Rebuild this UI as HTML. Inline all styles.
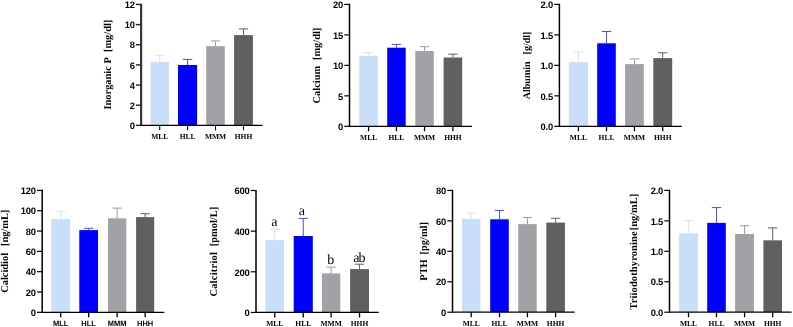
<!DOCTYPE html>
<html><head><meta charset="utf-8"><style>
html,body{margin:0;padding:0;background:#fff;}
body{width:793px;height:327px;overflow:hidden;font-family:"Liberation Sans", sans-serif;}
svg{display:block;will-change:transform;}
text{white-space:pre;text-rendering:geometricPrecision;opacity:0.999;}
</style></head><body>
<svg width="793" height="327" viewBox="0 0 793 327">
<rect width="793" height="327" fill="#fff"/>
<rect x="150.50" y="61.90" width="18.50" height="63.45" fill="#c9def8"/>
<line x1="159.75" y1="61.90" x2="159.75" y2="55.30" stroke="#d3e3f9" stroke-width="1"/>
<line x1="155.05" y1="55.30" x2="164.45" y2="55.30" stroke="#d3e3f9" stroke-width="1"/>
<line x1="159.75" y1="125.35" x2="159.75" y2="130.35" stroke="#000" stroke-width="1.1"/>
<text x="159.75" y="139.20" text-anchor="middle" font-family="'Liberation Serif', serif" font-weight="bold" font-size="7.5">MLL</text>
<rect x="178.00" y="65.00" width="19.10" height="60.35" fill="#0000ff"/>
<line x1="187.55" y1="65.00" x2="187.55" y2="59.40" stroke="#4a4aff" stroke-width="1"/>
<line x1="182.85" y1="59.40" x2="192.25" y2="59.40" stroke="#4a4aff" stroke-width="1"/>
<line x1="187.55" y1="125.35" x2="187.55" y2="130.35" stroke="#000" stroke-width="1.1"/>
<text x="187.55" y="139.20" text-anchor="middle" font-family="'Liberation Serif', serif" font-weight="bold" font-size="7.5">HLL</text>
<rect x="206.20" y="46.10" width="18.60" height="79.25" fill="#a2a1a6"/>
<line x1="215.50" y1="46.10" x2="215.50" y2="40.90" stroke="#9c9ba0" stroke-width="1"/>
<line x1="210.80" y1="40.90" x2="220.20" y2="40.90" stroke="#9c9ba0" stroke-width="1"/>
<line x1="215.50" y1="125.35" x2="215.50" y2="130.35" stroke="#000" stroke-width="1.1"/>
<text x="215.50" y="139.20" text-anchor="middle" font-family="'Liberation Serif', serif" font-weight="bold" font-size="7.5">MMM</text>
<rect x="234.10" y="35.10" width="18.80" height="90.25" fill="#606060"/>
<line x1="243.50" y1="35.10" x2="243.50" y2="28.90" stroke="#606060" stroke-width="1"/>
<line x1="238.80" y1="28.90" x2="248.20" y2="28.90" stroke="#606060" stroke-width="1"/>
<line x1="243.50" y1="125.35" x2="243.50" y2="130.35" stroke="#000" stroke-width="1.1"/>
<text x="243.50" y="139.20" text-anchor="middle" font-family="'Liberation Serif', serif" font-weight="bold" font-size="7.5">HHH</text>
<line x1="141.10" y1="3.75" x2="141.10" y2="125.95" stroke="#383838" stroke-width="2.2"/>
<line x1="141.10" y1="125.35" x2="262.60" y2="125.35" stroke="#000" stroke-width="1.2"/>
<line x1="135.90" y1="125.35" x2="141.10" y2="125.35" stroke="#222" stroke-width="1.4"/>
<text x="134.70" y="129.07" text-anchor="end" font-family="'Liberation Sans', sans-serif" font-weight="bold" font-size="9.4" letter-spacing="-0.2">0</text>
<line x1="135.90" y1="105.20" x2="141.10" y2="105.20" stroke="#222" stroke-width="1.4"/>
<text x="134.70" y="108.92" text-anchor="end" font-family="'Liberation Sans', sans-serif" font-weight="bold" font-size="9.4" letter-spacing="-0.2">2</text>
<line x1="135.90" y1="85.05" x2="141.10" y2="85.05" stroke="#222" stroke-width="1.4"/>
<text x="134.70" y="88.77" text-anchor="end" font-family="'Liberation Sans', sans-serif" font-weight="bold" font-size="9.4" letter-spacing="-0.2">4</text>
<line x1="135.90" y1="64.90" x2="141.10" y2="64.90" stroke="#222" stroke-width="1.4"/>
<text x="134.70" y="68.62" text-anchor="end" font-family="'Liberation Sans', sans-serif" font-weight="bold" font-size="9.4" letter-spacing="-0.2">6</text>
<line x1="135.90" y1="44.75" x2="141.10" y2="44.75" stroke="#222" stroke-width="1.4"/>
<text x="134.70" y="48.47" text-anchor="end" font-family="'Liberation Sans', sans-serif" font-weight="bold" font-size="9.4" letter-spacing="-0.2">8</text>
<line x1="135.90" y1="24.60" x2="141.10" y2="24.60" stroke="#222" stroke-width="1.4"/>
<text x="134.70" y="28.32" text-anchor="end" font-family="'Liberation Sans', sans-serif" font-weight="bold" font-size="9.4" letter-spacing="-0.2">10</text>
<line x1="135.90" y1="4.45" x2="141.10" y2="4.45" stroke="#222" stroke-width="1.4"/>
<text x="134.70" y="8.17" text-anchor="end" font-family="'Liberation Sans', sans-serif" font-weight="bold" font-size="9.4" letter-spacing="-0.2">12</text>
<text transform="translate(110.90,109.50) rotate(-90)" x="0" y="0" text-anchor="start" font-family="'Liberation Serif', serif" font-weight="bold" font-size="10.4" letter-spacing="0">Inorganic P</text>
<text transform="translate(110.90,19.70) rotate(-90)" x="0" y="0" text-anchor="end" font-family="'Liberation Serif', serif" font-weight="bold" font-size="10.4">[mg/dl]</text>
<rect x="359.30" y="55.90" width="18.60" height="70.40" fill="#c9def8"/>
<line x1="368.60" y1="55.90" x2="368.60" y2="52.60" stroke="#d3e3f9" stroke-width="1"/>
<line x1="363.90" y1="52.60" x2="373.30" y2="52.60" stroke="#d3e3f9" stroke-width="1"/>
<line x1="368.60" y1="126.30" x2="368.60" y2="131.30" stroke="#000" stroke-width="1.3"/>
<text x="368.60" y="139.80" text-anchor="middle" font-family="'Liberation Serif', serif" font-weight="bold" font-size="7.5">MLL</text>
<rect x="387.20" y="47.70" width="18.50" height="78.60" fill="#0000ff"/>
<line x1="396.45" y1="47.70" x2="396.45" y2="44.40" stroke="#4a4aff" stroke-width="1"/>
<line x1="391.75" y1="44.40" x2="401.15" y2="44.40" stroke="#4a4aff" stroke-width="1"/>
<line x1="396.45" y1="126.30" x2="396.45" y2="131.30" stroke="#000" stroke-width="1.3"/>
<text x="396.45" y="139.80" text-anchor="middle" font-family="'Liberation Serif', serif" font-weight="bold" font-size="7.5">HLL</text>
<rect x="415.30" y="51.00" width="18.50" height="75.30" fill="#a2a1a6"/>
<line x1="424.55" y1="51.00" x2="424.55" y2="46.70" stroke="#9c9ba0" stroke-width="1"/>
<line x1="419.85" y1="46.70" x2="429.25" y2="46.70" stroke="#9c9ba0" stroke-width="1"/>
<line x1="424.55" y1="126.30" x2="424.55" y2="131.30" stroke="#000" stroke-width="1.3"/>
<text x="424.55" y="139.80" text-anchor="middle" font-family="'Liberation Serif', serif" font-weight="bold" font-size="7.5">MMM</text>
<rect x="443.60" y="57.50" width="18.60" height="68.80" fill="#606060"/>
<line x1="452.90" y1="57.50" x2="452.90" y2="54.20" stroke="#606060" stroke-width="1"/>
<line x1="448.20" y1="54.20" x2="457.60" y2="54.20" stroke="#606060" stroke-width="1"/>
<line x1="452.90" y1="126.30" x2="452.90" y2="131.30" stroke="#000" stroke-width="1.3"/>
<text x="452.90" y="139.80" text-anchor="middle" font-family="'Liberation Serif', serif" font-weight="bold" font-size="7.5">HHH</text>
<line x1="349.50" y1="3.80" x2="349.50" y2="126.90" stroke="#000" stroke-width="1.5"/>
<line x1="349.50" y1="126.30" x2="471.90" y2="126.30" stroke="#000" stroke-width="1.2"/>
<line x1="344.30" y1="126.30" x2="349.50" y2="126.30" stroke="#000" stroke-width="1.2"/>
<text x="343.10" y="130.02" text-anchor="end" font-family="'Liberation Sans', sans-serif" font-weight="bold" font-size="9.4" letter-spacing="-0.2">0</text>
<line x1="344.30" y1="95.83" x2="349.50" y2="95.83" stroke="#000" stroke-width="1.2"/>
<text x="343.10" y="99.54" text-anchor="end" font-family="'Liberation Sans', sans-serif" font-weight="bold" font-size="9.4" letter-spacing="-0.2">5</text>
<line x1="344.30" y1="65.35" x2="349.50" y2="65.35" stroke="#000" stroke-width="1.2"/>
<text x="343.10" y="69.07" text-anchor="end" font-family="'Liberation Sans', sans-serif" font-weight="bold" font-size="9.4" letter-spacing="-0.2">10</text>
<line x1="344.30" y1="34.88" x2="349.50" y2="34.88" stroke="#000" stroke-width="1.2"/>
<text x="343.10" y="38.59" text-anchor="end" font-family="'Liberation Sans', sans-serif" font-weight="bold" font-size="9.4" letter-spacing="-0.2">15</text>
<line x1="344.30" y1="4.40" x2="349.50" y2="4.40" stroke="#000" stroke-width="1.2"/>
<text x="343.10" y="8.12" text-anchor="end" font-family="'Liberation Sans', sans-serif" font-weight="bold" font-size="9.4" letter-spacing="-0.2">20</text>
<text transform="translate(320.10,103.40) rotate(-90)" x="0" y="0" text-anchor="start" font-family="'Liberation Serif', serif" font-weight="bold" font-size="10.4" letter-spacing="0">Calcium</text>
<text transform="translate(320.10,27.70) rotate(-90)" x="0" y="0" text-anchor="end" font-family="'Liberation Serif', serif" font-weight="bold" font-size="10.4">[mg/dl]</text>
<rect x="568.80" y="62.10" width="19.20" height="64.20" fill="#c9def8"/>
<line x1="578.40" y1="62.10" x2="578.40" y2="51.90" stroke="#d3e3f9" stroke-width="1"/>
<line x1="573.70" y1="51.90" x2="583.10" y2="51.90" stroke="#d3e3f9" stroke-width="1"/>
<line x1="578.40" y1="126.30" x2="578.40" y2="131.30" stroke="#000" stroke-width="1.3"/>
<text x="578.40" y="139.90" text-anchor="middle" font-family="'Liberation Serif', serif" font-weight="bold" font-size="7.5">MLL</text>
<rect x="597.20" y="43.30" width="18.60" height="83.00" fill="#0000ff"/>
<line x1="606.50" y1="43.30" x2="606.50" y2="31.50" stroke="#4a4aff" stroke-width="1"/>
<line x1="601.80" y1="31.50" x2="611.20" y2="31.50" stroke="#4a4aff" stroke-width="1"/>
<line x1="606.50" y1="126.30" x2="606.50" y2="131.30" stroke="#000" stroke-width="1.3"/>
<text x="606.50" y="139.90" text-anchor="middle" font-family="'Liberation Serif', serif" font-weight="bold" font-size="7.5">HLL</text>
<rect x="625.10" y="64.10" width="18.70" height="62.20" fill="#a2a1a6"/>
<line x1="634.45" y1="64.10" x2="634.45" y2="58.90" stroke="#9c9ba0" stroke-width="1"/>
<line x1="629.75" y1="58.90" x2="639.15" y2="58.90" stroke="#9c9ba0" stroke-width="1"/>
<line x1="634.45" y1="126.30" x2="634.45" y2="131.30" stroke="#000" stroke-width="1.3"/>
<text x="634.45" y="139.90" text-anchor="middle" font-family="'Liberation Serif', serif" font-weight="bold" font-size="7.5">MMM</text>
<rect x="653.30" y="58.10" width="18.90" height="68.20" fill="#606060"/>
<line x1="662.75" y1="58.10" x2="662.75" y2="52.80" stroke="#606060" stroke-width="1"/>
<line x1="658.05" y1="52.80" x2="667.45" y2="52.80" stroke="#606060" stroke-width="1"/>
<line x1="662.75" y1="126.30" x2="662.75" y2="131.30" stroke="#000" stroke-width="1.3"/>
<text x="662.75" y="139.90" text-anchor="middle" font-family="'Liberation Serif', serif" font-weight="bold" font-size="7.5">HHH</text>
<line x1="559.40" y1="3.80" x2="559.40" y2="126.90" stroke="#000" stroke-width="1.5"/>
<line x1="559.40" y1="126.30" x2="681.90" y2="126.30" stroke="#000" stroke-width="1.2"/>
<line x1="554.20" y1="126.30" x2="559.40" y2="126.30" stroke="#000" stroke-width="1.2"/>
<text x="553.00" y="130.02" text-anchor="end" font-family="'Liberation Sans', sans-serif" font-weight="bold" font-size="9.4" letter-spacing="-0.2">0.0</text>
<line x1="554.20" y1="95.83" x2="559.40" y2="95.83" stroke="#000" stroke-width="1.2"/>
<text x="553.00" y="99.54" text-anchor="end" font-family="'Liberation Sans', sans-serif" font-weight="bold" font-size="9.4" letter-spacing="-0.2">0.5</text>
<line x1="554.20" y1="65.35" x2="559.40" y2="65.35" stroke="#000" stroke-width="1.2"/>
<text x="553.00" y="69.07" text-anchor="end" font-family="'Liberation Sans', sans-serif" font-weight="bold" font-size="9.4" letter-spacing="-0.2">1.0</text>
<line x1="554.20" y1="34.88" x2="559.40" y2="34.88" stroke="#000" stroke-width="1.2"/>
<text x="553.00" y="38.59" text-anchor="end" font-family="'Liberation Sans', sans-serif" font-weight="bold" font-size="9.4" letter-spacing="-0.2">1.5</text>
<line x1="554.20" y1="4.40" x2="559.40" y2="4.40" stroke="#000" stroke-width="1.2"/>
<text x="553.00" y="8.12" text-anchor="end" font-family="'Liberation Sans', sans-serif" font-weight="bold" font-size="9.4" letter-spacing="-0.2">2.0</text>
<text transform="translate(529.90,99.20) rotate(-90)" x="0" y="0" text-anchor="start" font-family="'Liberation Serif', serif" font-weight="bold" font-size="10.0" letter-spacing="0">Albumin</text>
<text transform="translate(529.90,31.60) rotate(-90)" x="0" y="0" text-anchor="end" font-family="'Liberation Serif', serif" font-weight="bold" font-size="10.0">[g/dl]</text>
<rect x="51.30" y="219.10" width="18.80" height="93.20" fill="#c9def8"/>
<line x1="60.70" y1="219.10" x2="60.70" y2="211.70" stroke="#d3e3f9" stroke-width="1"/>
<line x1="56.00" y1="211.70" x2="65.40" y2="211.70" stroke="#d3e3f9" stroke-width="1"/>
<line x1="60.70" y1="312.30" x2="60.70" y2="317.30" stroke="#000" stroke-width="1.3"/>
<text x="60.70" y="325.60" text-anchor="middle" font-family="'Liberation Sans', sans-serif" font-weight="bold" font-size="7.5">MLL</text>
<rect x="79.30" y="230.10" width="18.70" height="82.20" fill="#0000ff"/>
<line x1="88.65" y1="230.10" x2="88.65" y2="228.30" stroke="#4a4aff" stroke-width="1"/>
<line x1="83.95" y1="228.30" x2="93.35" y2="228.30" stroke="#4a4aff" stroke-width="1"/>
<line x1="88.65" y1="312.30" x2="88.65" y2="317.30" stroke="#000" stroke-width="1.3"/>
<text x="88.65" y="325.60" text-anchor="middle" font-family="'Liberation Sans', sans-serif" font-weight="bold" font-size="7.5">HLL</text>
<rect x="108.00" y="218.30" width="18.30" height="94.00" fill="#a2a1a6"/>
<line x1="117.15" y1="218.30" x2="117.15" y2="208.10" stroke="#9c9ba0" stroke-width="1"/>
<line x1="112.45" y1="208.10" x2="121.85" y2="208.10" stroke="#9c9ba0" stroke-width="1"/>
<line x1="117.15" y1="312.30" x2="117.15" y2="317.30" stroke="#000" stroke-width="1.3"/>
<text x="117.15" y="325.60" text-anchor="middle" font-family="'Liberation Sans', sans-serif" font-weight="bold" font-size="7.5">MMM</text>
<rect x="136.10" y="217.10" width="18.10" height="95.20" fill="#606060"/>
<line x1="145.15" y1="217.10" x2="145.15" y2="213.70" stroke="#606060" stroke-width="1"/>
<line x1="140.45" y1="213.70" x2="149.85" y2="213.70" stroke="#606060" stroke-width="1"/>
<line x1="145.15" y1="312.30" x2="145.15" y2="317.30" stroke="#000" stroke-width="1.3"/>
<text x="145.15" y="325.60" text-anchor="middle" font-family="'Liberation Sans', sans-serif" font-weight="bold" font-size="7.5">HHH</text>
<line x1="42.20" y1="189.80" x2="42.20" y2="312.90" stroke="#000" stroke-width="1.5"/>
<line x1="42.20" y1="312.30" x2="164.30" y2="312.30" stroke="#000" stroke-width="1.2"/>
<line x1="37.00" y1="312.30" x2="42.20" y2="312.30" stroke="#000" stroke-width="1.2"/>
<text x="35.80" y="316.02" text-anchor="end" font-family="'Liberation Sans', sans-serif" font-weight="bold" font-size="9.4" letter-spacing="-0.2">0</text>
<line x1="37.00" y1="291.98" x2="42.20" y2="291.98" stroke="#000" stroke-width="1.2"/>
<text x="35.80" y="295.70" text-anchor="end" font-family="'Liberation Sans', sans-serif" font-weight="bold" font-size="9.4" letter-spacing="-0.2">20</text>
<line x1="37.00" y1="271.67" x2="42.20" y2="271.67" stroke="#000" stroke-width="1.2"/>
<text x="35.80" y="275.38" text-anchor="end" font-family="'Liberation Sans', sans-serif" font-weight="bold" font-size="9.4" letter-spacing="-0.2">40</text>
<line x1="37.00" y1="251.35" x2="42.20" y2="251.35" stroke="#000" stroke-width="1.2"/>
<text x="35.80" y="255.07" text-anchor="end" font-family="'Liberation Sans', sans-serif" font-weight="bold" font-size="9.4" letter-spacing="-0.2">60</text>
<line x1="37.00" y1="231.03" x2="42.20" y2="231.03" stroke="#000" stroke-width="1.2"/>
<text x="35.80" y="234.75" text-anchor="end" font-family="'Liberation Sans', sans-serif" font-weight="bold" font-size="9.4" letter-spacing="-0.2">80</text>
<line x1="37.00" y1="210.72" x2="42.20" y2="210.72" stroke="#000" stroke-width="1.2"/>
<text x="35.80" y="214.43" text-anchor="end" font-family="'Liberation Sans', sans-serif" font-weight="bold" font-size="9.4" letter-spacing="-0.2">100</text>
<line x1="37.00" y1="190.40" x2="42.20" y2="190.40" stroke="#000" stroke-width="1.2"/>
<text x="35.80" y="194.12" text-anchor="end" font-family="'Liberation Sans', sans-serif" font-weight="bold" font-size="9.4" letter-spacing="-0.2">120</text>
<text transform="translate(7.90,292.80) rotate(-90)" x="0" y="0" text-anchor="start" font-family="'Liberation Serif', serif" font-weight="bold" font-size="10.4" letter-spacing="0">Calcidiol</text>
<text transform="translate(7.90,209.70) rotate(-90)" x="0" y="0" text-anchor="end" font-family="'Liberation Serif', serif" font-weight="bold" font-size="10.4">[ng/mL]</text>
<rect x="265.40" y="240.10" width="18.70" height="72.35" fill="#c9def8"/>
<line x1="274.75" y1="240.10" x2="274.75" y2="229.10" stroke="#d3e3f9" stroke-width="1"/>
<line x1="270.05" y1="229.10" x2="279.45" y2="229.10" stroke="#d3e3f9" stroke-width="1"/>
<line x1="274.75" y1="312.45" x2="274.75" y2="317.45" stroke="#000" stroke-width="1.3"/>
<text x="274.75" y="325.80" text-anchor="middle" font-family="'Liberation Serif', serif" font-weight="bold" font-size="7.5">MLL</text>
<text x="274.45" y="225.60" text-anchor="middle" font-family="'Liberation Serif', serif" font-size="14" letter-spacing="0">a</text>
<rect x="293.70" y="236.00" width="19.10" height="76.45" fill="#0000ff"/>
<line x1="303.25" y1="236.00" x2="303.25" y2="218.40" stroke="#4a4aff" stroke-width="1"/>
<line x1="298.55" y1="218.40" x2="307.95" y2="218.40" stroke="#4a4aff" stroke-width="1"/>
<line x1="303.25" y1="312.45" x2="303.25" y2="317.45" stroke="#000" stroke-width="1.3"/>
<text x="303.25" y="325.80" text-anchor="middle" font-family="'Liberation Serif', serif" font-weight="bold" font-size="7.5">HLL</text>
<text x="301.90" y="214.50" text-anchor="middle" font-family="'Liberation Serif', serif" font-size="14" letter-spacing="0">a</text>
<rect x="321.90" y="273.40" width="18.40" height="39.05" fill="#a2a1a6"/>
<line x1="331.10" y1="273.40" x2="331.10" y2="267.10" stroke="#9c9ba0" stroke-width="1"/>
<line x1="326.40" y1="267.10" x2="335.80" y2="267.10" stroke="#9c9ba0" stroke-width="1"/>
<line x1="331.10" y1="312.45" x2="331.10" y2="317.45" stroke="#000" stroke-width="1.3"/>
<text x="331.10" y="325.80" text-anchor="middle" font-family="'Liberation Serif', serif" font-weight="bold" font-size="7.5">MMM</text>
<text x="330.70" y="263.60" text-anchor="middle" font-family="'Liberation Serif', serif" font-size="14" letter-spacing="0">b</text>
<rect x="350.10" y="269.10" width="18.90" height="43.35" fill="#606060"/>
<line x1="359.55" y1="269.10" x2="359.55" y2="264.20" stroke="#606060" stroke-width="1"/>
<line x1="354.85" y1="264.20" x2="364.25" y2="264.20" stroke="#606060" stroke-width="1"/>
<line x1="359.55" y1="312.45" x2="359.55" y2="317.45" stroke="#000" stroke-width="1.3"/>
<text x="359.55" y="325.80" text-anchor="middle" font-family="'Liberation Serif', serif" font-weight="bold" font-size="7.5">HHH</text>
<text x="358.90" y="261.70" text-anchor="middle" font-family="'Liberation Serif', serif" font-size="14" letter-spacing="-0.9">ab</text>
<line x1="256.00" y1="189.90" x2="256.00" y2="313.05" stroke="#000" stroke-width="1.5"/>
<line x1="256.00" y1="312.45" x2="378.80" y2="312.45" stroke="#000" stroke-width="1.2"/>
<line x1="250.80" y1="312.45" x2="256.00" y2="312.45" stroke="#000" stroke-width="1.2"/>
<text x="249.60" y="316.17" text-anchor="end" font-family="'Liberation Sans', sans-serif" font-weight="bold" font-size="9.4" letter-spacing="-0.2">0</text>
<line x1="250.80" y1="271.80" x2="256.00" y2="271.80" stroke="#000" stroke-width="1.2"/>
<text x="249.60" y="275.52" text-anchor="end" font-family="'Liberation Sans', sans-serif" font-weight="bold" font-size="9.4" letter-spacing="-0.2">200</text>
<line x1="250.80" y1="231.15" x2="256.00" y2="231.15" stroke="#000" stroke-width="1.2"/>
<text x="249.60" y="234.87" text-anchor="end" font-family="'Liberation Sans', sans-serif" font-weight="bold" font-size="9.4" letter-spacing="-0.2">400</text>
<line x1="250.80" y1="190.50" x2="256.00" y2="190.50" stroke="#000" stroke-width="1.2"/>
<text x="249.60" y="194.22" text-anchor="end" font-family="'Liberation Sans', sans-serif" font-weight="bold" font-size="9.4" letter-spacing="-0.2">600</text>
<text transform="translate(217.40,296.60) rotate(-90)" x="0" y="0" text-anchor="start" font-family="'Liberation Serif', serif" font-weight="bold" font-size="10.4" letter-spacing="0.26">Calcitriol</text>
<text transform="translate(217.40,206.90) rotate(-90)" x="0" y="0" text-anchor="end" font-family="'Liberation Serif', serif" font-weight="bold" font-size="10.4">[pmol/L]</text>
<rect x="462.00" y="218.90" width="18.40" height="93.30" fill="#c9def8"/>
<line x1="471.20" y1="218.90" x2="471.20" y2="213.20" stroke="#d3e3f9" stroke-width="1"/>
<line x1="466.50" y1="213.20" x2="475.90" y2="213.20" stroke="#d3e3f9" stroke-width="1"/>
<line x1="471.20" y1="312.20" x2="471.20" y2="317.20" stroke="#000" stroke-width="1.3"/>
<text x="471.20" y="325.80" text-anchor="middle" font-family="'Liberation Serif', serif" font-weight="bold" font-size="7.5">MLL</text>
<rect x="490.20" y="219.30" width="18.60" height="92.90" fill="#0000ff"/>
<line x1="499.50" y1="219.30" x2="499.50" y2="210.40" stroke="#4a4aff" stroke-width="1"/>
<line x1="494.80" y1="210.40" x2="504.20" y2="210.40" stroke="#4a4aff" stroke-width="1"/>
<line x1="499.50" y1="312.20" x2="499.50" y2="317.20" stroke="#000" stroke-width="1.3"/>
<text x="499.50" y="325.80" text-anchor="middle" font-family="'Liberation Serif', serif" font-weight="bold" font-size="7.5">HLL</text>
<rect x="518.20" y="224.10" width="18.50" height="88.10" fill="#a2a1a6"/>
<line x1="527.45" y1="224.10" x2="527.45" y2="217.50" stroke="#9c9ba0" stroke-width="1"/>
<line x1="522.75" y1="217.50" x2="532.15" y2="217.50" stroke="#9c9ba0" stroke-width="1"/>
<line x1="527.45" y1="312.20" x2="527.45" y2="317.20" stroke="#000" stroke-width="1.3"/>
<text x="527.45" y="325.80" text-anchor="middle" font-family="'Liberation Serif', serif" font-weight="bold" font-size="7.5">MMM</text>
<rect x="546.30" y="222.60" width="18.60" height="89.60" fill="#606060"/>
<line x1="555.60" y1="222.60" x2="555.60" y2="218.30" stroke="#606060" stroke-width="1"/>
<line x1="550.90" y1="218.30" x2="560.30" y2="218.30" stroke="#606060" stroke-width="1"/>
<line x1="555.60" y1="312.20" x2="555.60" y2="317.20" stroke="#000" stroke-width="1.3"/>
<text x="555.60" y="325.80" text-anchor="middle" font-family="'Liberation Serif', serif" font-weight="bold" font-size="7.5">HHH</text>
<line x1="452.50" y1="189.80" x2="452.50" y2="312.80" stroke="#000" stroke-width="1.5"/>
<line x1="452.50" y1="312.20" x2="574.70" y2="312.20" stroke="#000" stroke-width="1.2"/>
<line x1="447.30" y1="312.20" x2="452.50" y2="312.20" stroke="#000" stroke-width="1.2"/>
<text x="446.10" y="315.92" text-anchor="end" font-family="'Liberation Sans', sans-serif" font-weight="bold" font-size="9.4" letter-spacing="-0.2">0</text>
<line x1="447.30" y1="281.75" x2="452.50" y2="281.75" stroke="#000" stroke-width="1.2"/>
<text x="446.10" y="285.47" text-anchor="end" font-family="'Liberation Sans', sans-serif" font-weight="bold" font-size="9.4" letter-spacing="-0.2">20</text>
<line x1="447.30" y1="251.30" x2="452.50" y2="251.30" stroke="#000" stroke-width="1.2"/>
<text x="446.10" y="255.02" text-anchor="end" font-family="'Liberation Sans', sans-serif" font-weight="bold" font-size="9.4" letter-spacing="-0.2">40</text>
<line x1="447.30" y1="220.85" x2="452.50" y2="220.85" stroke="#000" stroke-width="1.2"/>
<text x="446.10" y="224.57" text-anchor="end" font-family="'Liberation Sans', sans-serif" font-weight="bold" font-size="9.4" letter-spacing="-0.2">60</text>
<line x1="447.30" y1="190.40" x2="452.50" y2="190.40" stroke="#000" stroke-width="1.2"/>
<text x="446.10" y="194.12" text-anchor="end" font-family="'Liberation Sans', sans-serif" font-weight="bold" font-size="9.4" letter-spacing="-0.2">80</text>
<text transform="translate(427.40,280.70) rotate(-90)" x="0" y="0" text-anchor="start" font-family="'Liberation Serif', serif" font-weight="bold" font-size="10.4" letter-spacing="0">PTH</text>
<text transform="translate(427.40,222.10) rotate(-90)" x="0" y="0" text-anchor="end" font-family="'Liberation Serif', serif" font-weight="bold" font-size="10.4">[pg/ml]</text>
<rect x="679.10" y="233.30" width="18.80" height="78.90" fill="#c9def8"/>
<line x1="688.50" y1="233.30" x2="688.50" y2="220.60" stroke="#d3e3f9" stroke-width="1"/>
<line x1="683.80" y1="220.60" x2="693.20" y2="220.60" stroke="#d3e3f9" stroke-width="1"/>
<line x1="688.50" y1="312.20" x2="688.50" y2="317.20" stroke="#000" stroke-width="1.3"/>
<text x="688.50" y="325.60" text-anchor="middle" font-family="'Liberation Serif', serif" font-weight="bold" font-size="7.5">MLL</text>
<rect x="707.20" y="222.90" width="18.60" height="89.30" fill="#0000ff"/>
<line x1="716.50" y1="222.90" x2="716.50" y2="207.60" stroke="#4a4aff" stroke-width="1"/>
<line x1="711.80" y1="207.60" x2="721.20" y2="207.60" stroke="#4a4aff" stroke-width="1"/>
<line x1="716.50" y1="312.20" x2="716.50" y2="317.20" stroke="#000" stroke-width="1.3"/>
<text x="716.50" y="325.60" text-anchor="middle" font-family="'Liberation Serif', serif" font-weight="bold" font-size="7.5">HLL</text>
<rect x="735.10" y="234.00" width="18.90" height="78.20" fill="#a2a1a6"/>
<line x1="744.55" y1="234.00" x2="744.55" y2="225.80" stroke="#9c9ba0" stroke-width="1"/>
<line x1="739.85" y1="225.80" x2="749.25" y2="225.80" stroke="#9c9ba0" stroke-width="1"/>
<line x1="744.55" y1="312.20" x2="744.55" y2="317.20" stroke="#000" stroke-width="1.3"/>
<text x="744.55" y="325.60" text-anchor="middle" font-family="'Liberation Serif', serif" font-weight="bold" font-size="7.5">MMM</text>
<rect x="763.40" y="240.30" width="18.60" height="71.90" fill="#606060"/>
<line x1="772.70" y1="240.30" x2="772.70" y2="227.90" stroke="#606060" stroke-width="1"/>
<line x1="768.00" y1="227.90" x2="777.40" y2="227.90" stroke="#606060" stroke-width="1"/>
<line x1="772.70" y1="312.20" x2="772.70" y2="317.20" stroke="#000" stroke-width="1.3"/>
<text x="772.70" y="325.60" text-anchor="middle" font-family="'Liberation Serif', serif" font-weight="bold" font-size="7.5">HHH</text>
<line x1="669.50" y1="189.80" x2="669.50" y2="312.80" stroke="#000" stroke-width="1.5"/>
<line x1="669.50" y1="312.20" x2="791.60" y2="312.20" stroke="#000" stroke-width="1.2"/>
<line x1="664.30" y1="312.20" x2="669.50" y2="312.20" stroke="#000" stroke-width="1.2"/>
<text x="663.10" y="315.92" text-anchor="end" font-family="'Liberation Sans', sans-serif" font-weight="bold" font-size="9.4" letter-spacing="-0.2">0.0</text>
<line x1="664.30" y1="281.75" x2="669.50" y2="281.75" stroke="#000" stroke-width="1.2"/>
<text x="663.10" y="285.47" text-anchor="end" font-family="'Liberation Sans', sans-serif" font-weight="bold" font-size="9.4" letter-spacing="-0.2">0.5</text>
<line x1="664.30" y1="251.30" x2="669.50" y2="251.30" stroke="#000" stroke-width="1.2"/>
<text x="663.10" y="255.02" text-anchor="end" font-family="'Liberation Sans', sans-serif" font-weight="bold" font-size="9.4" letter-spacing="-0.2">1.0</text>
<line x1="664.30" y1="220.85" x2="669.50" y2="220.85" stroke="#000" stroke-width="1.2"/>
<text x="663.10" y="224.57" text-anchor="end" font-family="'Liberation Sans', sans-serif" font-weight="bold" font-size="9.4" letter-spacing="-0.2">1.5</text>
<line x1="664.30" y1="190.40" x2="669.50" y2="190.40" stroke="#000" stroke-width="1.2"/>
<text x="663.10" y="194.12" text-anchor="end" font-family="'Liberation Sans', sans-serif" font-weight="bold" font-size="9.4" letter-spacing="-0.2">2.0</text>
<text transform="translate(636.90,309.70) rotate(-90)" x="0" y="0" text-anchor="start" font-family="'Liberation Serif', serif" font-weight="bold" font-size="10.4" letter-spacing="0.17">Triiodothyronine</text>
<text transform="translate(636.90,193.90) rotate(-90)" x="0" y="0" text-anchor="end" font-family="'Liberation Serif', serif" font-weight="bold" font-size="10.4">[ng/mL]</text>
</svg>
</body></html>
